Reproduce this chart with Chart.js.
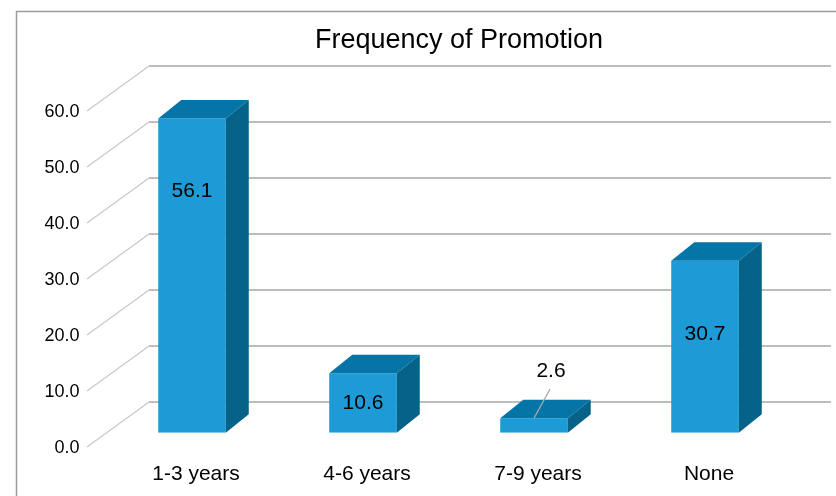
<!DOCTYPE html>
<html lang="en">
<head>
  <meta charset="UTF-8">
  <title>Frequency of Promotion</title>
  <script src="https://cdn.jsdelivr.net/npm/chart.js"></script>
  <style>
    html, body { margin: 0; padding: 0; background: #fff; }
    #wrap { width: 836px; height: 496px; }
  </style>
</head>
<body>
  <div id="wrap"><canvas id="promoChart"></canvas></div>

  <script>
    // Share of respondents by how often they were promoted (%)
    const categories = ['1-3 years', '4-6 years', '7-9 years', 'None'];
    const percentages = [56.1, 10.6, 2.6, 30.7];
    const yTicks = [0, 10, 20, 30, 40, 50, 60];
    const chartTitle = 'Frequency of Promotion';

    const FONT = '"Liberation Sans", Arial, sans-serif';
    const FRONT_COLOR = '#1d9bd7';
    const TOP_COLOR = '#0475a6';
    const SIDE_COLOR = '#056288';

    // Pseudo-3D offsets (px) relative to the plane of the bar fronts
    const WALL_BACK = { dx: 42.5, dy: -30.7 };
    const WALL_FRONT = { dx: -19.5, dy: 14.3 };
    const BAR_DEPTH = { dx: 23, dy: -18.5 };

    // Outer frame of the chart box, and the title centred over the whole box
    const framePlugin = {
      id: 'frame',
      beforeDraw(chart) {
        const ctx = chart.ctx;
        ctx.save();
        ctx.strokeStyle = '#9c9c9c';
        ctx.lineWidth = 1.5;
        ctx.strokeRect(16.5, 11.5, 900, 600);
        ctx.font = '27px ' + FONT;
        ctx.fillStyle = '#000';
        ctx.textAlign = 'center';
        ctx.textBaseline = 'middle';
        ctx.fillText(chartTitle, 459, 41);
        ctx.restore();
      }
    };

    // Back wall gridlines and the slanted lines of the side wall
    const wallsPlugin = {
      id: 'walls',
      beforeDatasetsDraw(chart) {
        const ctx = chart.ctx;
        const { left, right } = chart.chartArea;
        const y = chart.scales.y;
        ctx.save();
        yTicks.forEach(v => {
          const py = y.getPixelForValue(v);
          ctx.strokeStyle = '#c8c8c8';
          ctx.lineWidth = 1.2;
          ctx.beginPath();
          ctx.moveTo(left + WALL_FRONT.dx, py + WALL_FRONT.dy);
          ctx.lineTo(left + WALL_BACK.dx, py + WALL_BACK.dy);
          ctx.stroke();

          ctx.strokeStyle = '#bdbdbd';
          ctx.lineWidth = 2;
          ctx.beginPath();
          ctx.moveTo(left + WALL_BACK.dx, py + WALL_BACK.dy);
          ctx.lineTo(right + WALL_BACK.dx - 2, py + WALL_BACK.dy);
          ctx.stroke();
        });
        ctx.restore();
      }
    };

    // Top and side faces of each bar, then the value labels
    const bars3dPlugin = {
      id: 'bars3d',
      afterDatasetsDraw(chart) {
        const ctx = chart.ctx;
        const meta = chart.getDatasetMeta(0);
        ctx.save();
        meta.data.forEach((bar, i) => {
          const x0 = bar.x - bar.width / 2;
          const x1 = bar.x + bar.width / 2;
          const top = bar.y;
          const base = bar.base;
          const { dx, dy } = BAR_DEPTH;

          ctx.fillStyle = TOP_COLOR;
          ctx.beginPath();
          ctx.moveTo(x0, top);
          ctx.lineTo(x1, top);
          ctx.lineTo(x1 + dx, top + dy);
          ctx.lineTo(x0 + dx, top + dy);
          ctx.closePath();
          ctx.fill();

          ctx.fillStyle = SIDE_COLOR;
          ctx.beginPath();
          ctx.moveTo(x1, top);
          ctx.lineTo(x1 + dx, top + dy);
          ctx.lineTo(x1 + dx, base + dy);
          ctx.lineTo(x1, base);
          ctx.closePath();
          ctx.fill();

          const text = percentages[i].toFixed(1);
          ctx.font = '21px ' + FONT;
          ctx.fillStyle = '#000';
          ctx.textAlign = 'center';
          ctx.textBaseline = 'middle';
          if (base - top < 20) {
            // too thin for the label: put it above with a leader line
            ctx.strokeStyle = '#a8a8a8';
            ctx.lineWidth = 1.2;
            ctx.beginPath();
            ctx.moveTo(bar.x, top);
            ctx.lineTo(bar.x + 16, top - 29);
            ctx.stroke();
            ctx.fillText(text, bar.x + 17, top - 47);
          } else {
            ctx.fillText(text, bar.x, Math.min(top + 73, (top + base) / 2));
          }
        });
        ctx.restore();
      }
    };

    new Chart(document.getElementById('promoChart'), {
      type: 'bar',
      data: {
        labels: categories,
        datasets: [{
          data: percentages,
          backgroundColor: FRONT_COLOR,
          borderWidth: 0,
          barPercentage: 0.395,
          categoryPercentage: 1
        }]
      },
      options: {
        responsive: true,
        maintainAspectRatio: false,
        animation: false,
        layout: { padding: { top: 96.7, left: 16.5, right: 45.5, bottom: 0 } },
        plugins: {
          legend: { display: false },
          tooltip: { enabled: false },
          title: { display: false }
        },
        scales: {
          x: {
            grid: { display: false, drawTicks: false },
            border: { display: false },
            ticks: {
              color: '#000',
              font: { family: FONT, size: 21 },
              padding: 29,
              labelOffset: 4,
              maxRotation: 0
            },
            afterFit(scale) { scale.height = 63.3; }
          },
          y: {
            min: 0,
            max: 60,
            grid: { display: false, drawTicks: false },
            border: { display: false },
            ticks: {
              stepSize: 10,
              color: '#000',
              font: { family: FONT, size: 18 },
              padding: 27,
              labelOffset: WALL_FRONT.dy + 1,
              callback: v => v.toFixed(1)
            },
            afterFit(scale) { scale.width = 90; }
          }
        }
      },
      plugins: [framePlugin, wallsPlugin, bars3dPlugin]
    });
  </script>
</body>
</html>
